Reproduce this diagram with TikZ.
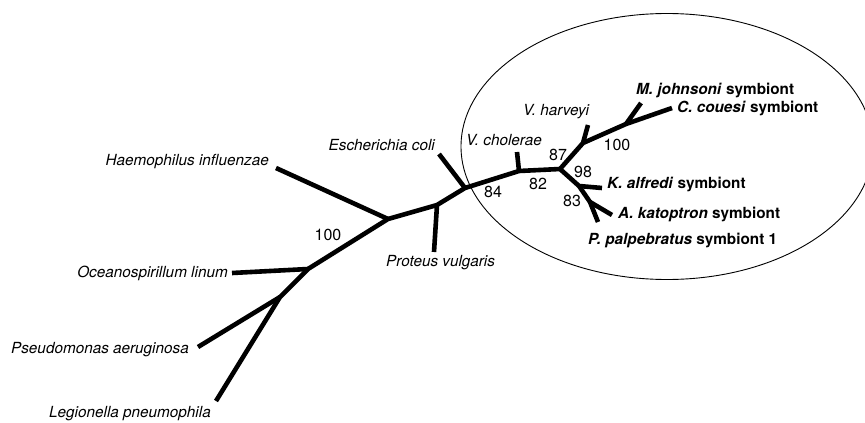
\documentclass[tikz,border=0pt]{standalone}
\usepackage{fontspec}
\setmainfont{TeX Gyre Heros}
\begin{document}
\begin{tikzpicture}[x=1pt,y=-1pt,
  br/.style={line width=4.6pt,line join=round,black},
  lab/.style={inner sep=0pt,font=\fontsize{15.3}{18}\selectfont\itshape},
  blab/.style={inner sep=0pt,font=\fontsize{15.3}{18}\selectfont\bfseries},
  num/.style={inner sep=0pt,font=\fontsize{16}{19}\selectfont}]
\useasboundingbox (0,0) rectangle (865,423);
% ellipse
\draw[line width=0.9pt] (667,146.5) ellipse [x radius=206, y radius=133];
% junctions
\coordinate (jL) at (280,297);
\coordinate (jO) at (308,269);
\coordinate (jH) at (388,219);
\coordinate (jP) at (437,205);
\coordinate (jE) at (465,188);
\coordinate (jC) at (519,171);
\coordinate (jM) at (560,169);
\coordinate (jVh) at (583,143);
\coordinate (jMC) at (626,124);
\coordinate (jK) at (579,186);
\coordinate (jAP) at (590,202);
% tips
\coordinate (tPs) at (198,347);
\coordinate (tLe) at (216,401);
\coordinate (tOc) at (232,273);
\coordinate (tHa) at (276,168);
\coordinate (tPr) at (434,252);
\coordinate (tEc) at (439,154);
\coordinate (tVc) at (517,152);
\coordinate (tVh) at (588,125);
\coordinate (tMj) at (641,103);
\coordinate (tCc) at (672,108);
\coordinate (tKa) at (602,188);
\coordinate (tAk) at (612,215);
\coordinate (tPp) at (598,222);
% branches
\draw[br] (tLe) -- (jL) -- (jO) -- (jH) -- (jP) -- (jE) -- (jC) -- (jM);
\draw[br] (tPs) -- (jL);
\draw[br] (tOc) -- (jO);
\draw[br] (tHa) -- (jH);
\draw[br] (tPr) -- (jP);
\draw[br] (tEc) -- (jE);
\draw[br] (tVc) -- (jC);
\draw[br] (jM) -- (jVh) -- (jMC) -- (tCc);
\draw[br] (tVh) -- (jVh);
\draw[br] (tMj) -- (jMC);
\draw[br] (jM) -- (jK) -- (jAP) -- (tPp);
\draw[br] (jK) -- (tKa);
\draw[br] (jAP) -- (tAk);
% labels
\node[lab,anchor=east] (lHa) at (269,162) {Haemophilus influenzae};
\node[lab,anchor=east] (lOc) at (228,273) {Oceanospirillum linum};
\node[lab,anchor=east] (lPs) at (189,350) {Pseudomonas aeruginosa};
\node[lab,anchor=east] (lLe) at (211,414) {Legionella pneumophila};
\node[lab,anchor=east] (lEc) at (435,145) {Escherichia coli};
\node[lab,anchor=west] (lPr) at (386,263) {Proteus vulgaris};
\node[lab,anchor=west] (lVc) at (466,140) {V. cholerae};
\node[lab,anchor=west] (lVh) at (523,112) {V. harveyi};
\node[blab,anchor=west] (lMj) at (636,90) {\textit{M. johnsoni} symbiont};
\node[blab,anchor=west] (lCc) at (677,108) {\textit{C. couesi} symbiont};
\node[blab,anchor=west] (lKa) at (607,184) {\textit{K. alfredi} symbiont};
\node[blab,anchor=west] (lAk) at (618,214) {\textit{A. katoptron} symbiont};
\node[blab,anchor=west] (lPp) at (588,240) {\textit{P. palpebratus} symbiont 1};
% bootstrap values
\node[num] (n100a) at (328,235) {100};
\node[num] (n84) at (493,192) {84};
\node[num] (n82) at (538,184) {82};
\node[num] (n87) at (558,155) {87};
\node[num] (n100b) at (617,145) {100};
\node[num] (n98) at (583,172) {98};
\node[num] (n83) at (572,201) {83};
\end{tikzpicture}
\end{document}
